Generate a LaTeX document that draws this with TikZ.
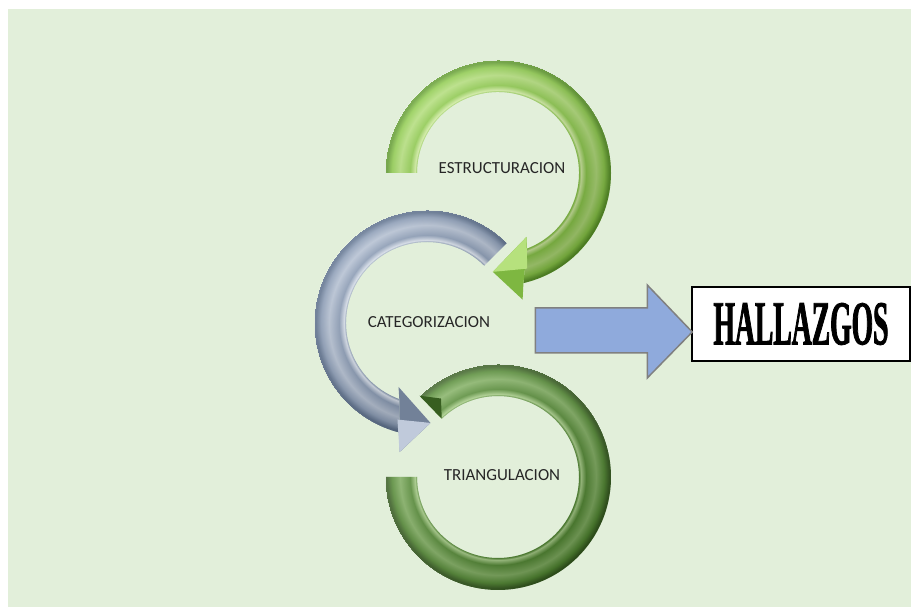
\documentclass[tikz,border=0pt]{standalone}
\usepackage{fontspec}
\setmainfont{Carlito}
\newfontfamily\hallfont[FakeStretch=0.44,FakeBold=1.2]{Liberation Serif}
\usetikzlibrary{calc,positioning}

\definecolor{fondo}{HTML}{E2EFDA}
\definecolor{estbase}{HTML}{8CCB48}
\definecolor{estlight}{HTML}{D2F0A0}
\definecolor{estdark}{HTML}{5E9A2A}
\definecolor{catbase}{HTML}{8698B3}
\definecolor{catlight}{HTML}{D8E0EC}
\definecolor{catdark}{HTML}{586C8A}
\definecolor{tribase}{HTML}{548C33}
\definecolor{trilight}{HTML}{A9D188}
\definecolor{tridark}{HTML}{375E20}
\definecolor{azul}{HTML}{8FAADC}

\pgfdeclareradialshading{estbevel}{\pgfpointorigin}{color(0bp)=(estbase); color(81bp)=(estbase); color(83bp)=(estlight); color(88bp)=(estbase); color(98bp)=(estlight!55!estbase); color(106bp)=(estbase); color(111bp)=(estdark); color(113bp)=(estdark)}
\pgfdeclareradialshading{catbevel}{\pgfpointorigin}{color(0bp)=(catbase); color(81bp)=(catbase); color(83bp)=(catlight); color(88bp)=(catbase); color(98bp)=(catlight!55!catbase); color(106bp)=(catbase); color(111bp)=(catdark); color(113bp)=(catdark)}
\pgfdeclareradialshading{tribevel}{\pgfpointorigin}{color(0bp)=(tribase); color(81bp)=(tribase); color(83bp)=(trilight); color(88bp)=(tribase); color(98bp)=(trilight!55!tribase); color(106bp)=(tribase); color(111bp)=(tridark); color(113bp)=(tridark)}

\begin{document}
\begin{tikzpicture}[
        x=1bp, y=1bp,
        etiqueta/.style={font=\fontsize{17}{20}\selectfont, text=black!85},
        sombra/.style={inner sep=0pt, outer sep=0pt},
        luz/.style={top color=white, bottom color=black, shading angle=45, opacity=.2},
        hallbox/.style={draw=black, line width=1.5bp, fill=white, minimum width=218bp, minimum height=74bp, font=\hallfont\bfseries\fontsize{63}{70}\selectfont},
        flecha/.style={fill=azul, draw=black!50, line width=1.5bp, line join=miter}
      ]
        \useasboundingbox (0,0) rectangle (911,607);
        \fill[fondo] (8,0) rectangle (911,598);

        % anillo inferior
        \begin{scope}[shift={(498,130)}]
          \clip (134:113) arc[start angle=134, end angle=-180, radius=113] -- (180:81) arc[start angle=-180, end angle=134, radius=81] -- cycle;
          \node (sombratri) [sombra] at (0,0) {\pgfuseshading{tribevel}};
          \shade[luz] (-113,-113) rectangle (113,113);
          \fill[tridark] (134:113) -- (134:81) -- (126:97) -- cycle;
        \end{scope}

        % anillo central
        \begin{scope}[shift={(427,284)}]
          \begin{scope}
            \clip (45:113) arc[start angle=45, end angle=256, radius=113] -- (250:81) arc[start angle=250, end angle=45, radius=81] -- cycle;
            \node (sombracat) [sombra] at (0,0) {\pgfuseshading{catbevel}};
            \shade[luz] (-113,-113) rectangle (113,113);
          \end{scope}
          \fill[catbase!85!black] (256:113) -- (258:132) -- (272:100) -- (246:70) -- (250:81) -- cycle;
          \fill[catlight!70!catbase] (272:100) -- (258:132) -- (253:101) -- cycle;
        \end{scope}

        % anillo superior
        \begin{scope}[shift={(498,434)}]
          \begin{scope}
            \clip (180:113) arc[start angle=180, end angle=-77, radius=113] -- (-69:81) arc[start angle=-69, end angle=180, radius=81] -- cycle;
            \node (sombraest) [sombra] at (0,0) {\pgfuseshading{estbevel}};
            \shade[luz] (-113,-113) rectangle (113,113);
          \end{scope}
          \fill[estbase!90!black] (-77:113) -- (-79:129) -- (-93:99) -- (-66:70) -- (-69:81) -- cycle;
          \fill[estlight!60!estbase] (-93:99) -- (-66:70) -- (-73:100) -- cycle;
        \end{scope}

        \node (estructuracion) [etiqueta] at (502,439) {ESTRUCTURACION};
        \node (categorizacion) [etiqueta] at (429,285) {CATEGORIZACION};
        \node (triangulacion) [etiqueta] at (502,132) {TRIANGULACION};

        \node (hallazgos) [hallbox] at (801,283) {HALLAZGOS};
        \coordinate (punta) at ($(hallazgos.west)+(1,-8)$);
        \draw[flecha] (punta) -- ++(-45,47) -- ++(0,-23) -- ++(-112,0) -- ++(0,-45) -- ++(112,0) -- ++(0,-25) -- cycle;
      \end{tikzpicture}
\end{document}
